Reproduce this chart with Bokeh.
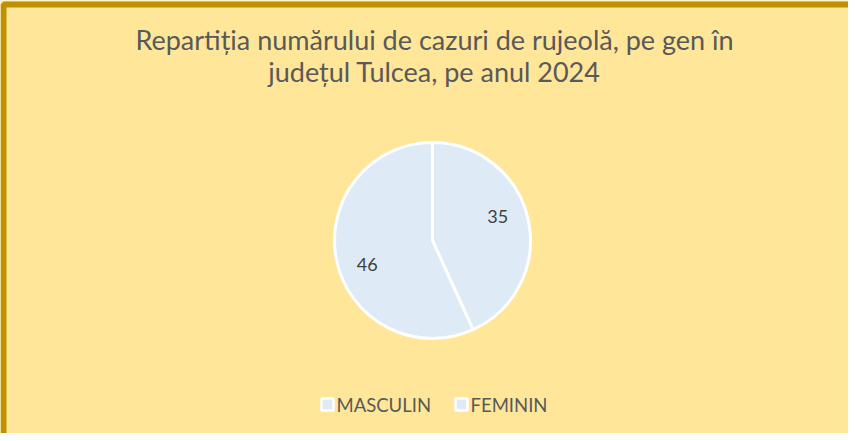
import numpy as np
from bokeh.plotting import figure
from bokeh.models import Range1d, ColumnDataSource
from bokeh.core.properties import value
from bokeh.embed import file_html
from bokeh.resources import INLINE

categories = ["MASCULIN", "FEMININ"]
counts = [35, 46]
title_lines = ["Repartiția numărului de cazuri de rujeolă, pe gen în",
               "județul Tulcea, pe anul 2024"]

W, H = 848, 433
p = figure(width=W, height=H, output_backend="svg", toolbar_location=None,
           x_range=Range1d(0, W), y_range=Range1d(0, H),
           min_border=0, background_fill_color="#FFE699",
           border_fill_color="#FFE699")
p.axis.visible = False
p.grid.visible = False
p.outline_line_color = None

# border
p.rect(x=[(3 + 1200) / 2], y=[(429 - 200) / 2], width=[1200 - 3], height=[429 + 200],
       fill_color=None, line_color="#BF9000", line_width=6)

# title
font = value("Lato")
p.text(x=[434, 434], y=[H - 39, H - 71], text=title_lines, text_font=font,
       text_font_size="27px", text_color="#595959",
       text_align="center", text_baseline="middle")

# pie
cx, cy, r = 432, 193, 98
vals = np.array(counts, dtype=float)
frac = vals / vals.sum()
ang = 2 * np.pi * frac
ends = np.pi / 2 - np.concatenate([[0], np.cumsum(ang)[:-1]])
starts = ends - ang
src = ColumnDataSource(dict(start=starts, end=ends, cat=categories,
                            lab=[str(c) for c in counts]))
p.wedge(x=cx, y=cy, radius=r, start_angle="start", end_angle="end",
        fill_color="#DEEBF7", line_color="white", line_width=3, source=src)
mid = (starts + ends) / 2 + np.deg2rad(8)
lr = r * 0.71
p.text(x=cx + lr * np.cos(mid), y=cy + lr * np.sin(mid),
       text=[str(c) for c in counts], text_font=font, text_font_size="18px",
       text_color="#404040", text_align="center", text_baseline="middle")

# legend
lx = [327, 461]
ly = 29
p.scatter(x=lx, y=[ly] * 2, marker="square", size=12, fill_color="#DEEBF7",
          line_color="white", line_width=2.5)
p.text(x=[x + 9 for x in lx], y=[ly] * 2, text=categories, text_font=font,
       text_font_size="18.5px", text_color="#595959", text_align="left",
       text_baseline="middle")

open("out.html", "w").write(file_html(p, INLINE))
